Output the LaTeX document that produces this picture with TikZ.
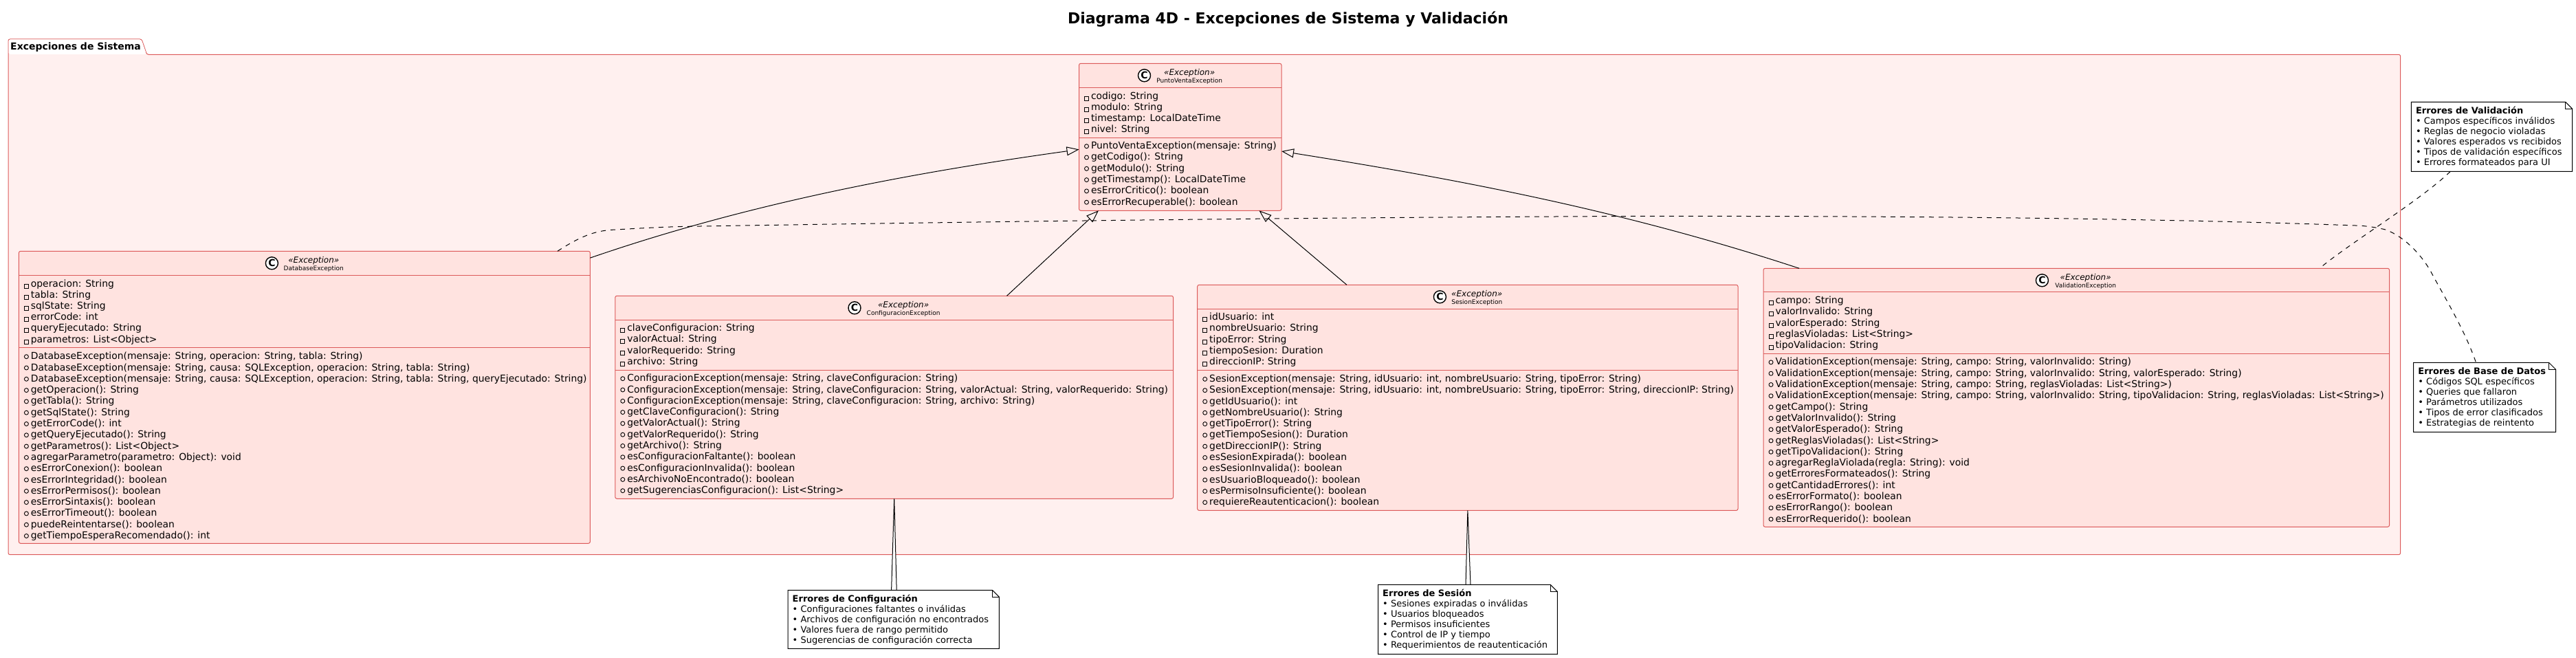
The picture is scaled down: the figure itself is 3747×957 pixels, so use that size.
\documentclass[tikz,border=0pt]{standalone}
\usepackage{fontspec}
\setmainfont{DejaVu Sans}
\usetikzlibrary{arrows.meta,calc}
\definecolor{pkgfill}{HTML}{FFF0EF}
\definecolor{clsfill}{HTML}{FFE3E0}
\definecolor{redline}{HTML}{DC5A5A}
\tikzset{
  x=1pt,y=-1pt,
  pkgshape/.style={draw=redline,fill=pkgfill,line width=1pt,rounded corners=2.5pt},
  clsbox/.style={draw=redline,fill=clsfill,line width=1pt,rounded corners=2.5pt,inner sep=0pt,outer sep=0pt},
  clsdiv/.style={draw=redline,line width=1pt},
  memtext/.style={anchor=base west,inner sep=0pt,font=\fontsize{13.9}{15}\selectfont},
  notetext/.style={anchor=base west,inner sep=0pt,font=\fontsize{13}{15}\selectfont},
  notehead/.style={anchor=base west,inner sep=0pt,font=\fontsize{13}{15}\selectfont\bfseries},
  notebox/.style={inner sep=0pt,outer sep=0pt},
  noteshape/.style={draw=black,fill=white,line width=1pt},
  inherit/.style={draw=black,line width=1pt,-{Triangle[open,length=18pt,width=13pt,line width=1pt]}},
  notelink/.style={draw=black,line width=1pt,dash pattern=on 7pt off 7pt},
  wedgelink/.style={draw=black,fill=white,line width=1pt},
}
\newcommand{\classbox}[9]{%
  % name, left, top, right, bottom, hdiv, adiv, C centre x, class name
  \pgfmathsetmacro{\cxx}{(#2+#4)/2}\pgfmathsetmacro{\cyy}{(#3+#5)/2}
  \pgfmathsetmacro{\cww}{#4-#2}\pgfmathsetmacro{\chh}{#5-#3}
  \node[clsbox,minimum width=\cww pt,minimum height=\chh pt] (#1) at (\cxx,\cyy) {};
  \draw[clsdiv] (#2,#6) -- (#4,#6);
  \draw[clsdiv] (#2,#7) -- (#4,#7);
  \pgfmathsetmacro{\cic}{#3+17.5}
  \pgfmathsetmacro{\ctx}{\cxx+13.4}
  \pgfmathsetmacro{\csa}{#3+17}
  \pgfmathsetmacro{\csb}{#3+28}
  \node[circle,draw=black,fill=white,line width=1.4pt,minimum size=18pt,inner sep=0pt,font=\fontsize{14}{14}\selectfont\bfseries] (#1-c) at (#8,\cic) {C};
  \node[anchor=base,inner sep=0pt,font=\fontsize{12}{14}\selectfont\itshape] (#1-s) at (\ctx,\csa) {«Exception»};
  \node[anchor=base,inner sep=0pt,font=\fontsize{9}{11}\selectfont] (#1-n) at (\ctx,\csb) {#9};
}
\newcommand{\attrlist}[4]{%
  % name, left, first baseline, list
  \foreach \t [count=\i from 0] in {#4} {
    \pgfmathsetmacro{\ly}{#3+16.2*\i}
    \pgfmathsetmacro{\lx}{#2+17.3}
    \pgfmathsetmacro{\ix}{#2+8}
    \pgfmathsetmacro{\iy}{\ly-4}
    \draw[black,line width=0.9pt] (\ix,\iy) rectangle +(6,6);
    \node[memtext] (#1-a\i) at (\lx,\ly) {\t};
  }
}
\newcommand{\methlist}[4]{%
  \foreach \t [count=\i from 0] in {#4} {
    \pgfmathsetmacro{\ly}{#3+16.3*\i}
    \pgfmathsetmacro{\lx}{#2+17.3}
    \pgfmathsetmacro{\ix}{#2+11}
    \pgfmathsetmacro{\iy}{\ly-4}
    \draw[black,line width=0.9pt] (\ix,\iy) circle (3pt);
    \node[memtext] (#1-m\i) at (\lx,\ly) {\t};
  }
}
\newcommand{\notenode}[7]{%
  % name, left, top, right, bottom, heading, lines
  \pgfmathsetmacro{\cxx}{(#2+#4)/2}\pgfmathsetmacro{\cyy}{(#3+#5)/2}
  \pgfmathsetmacro{\cww}{#4-#2}\pgfmathsetmacro{\chh}{#5-#3}
  \node[notebox,minimum width=\cww pt,minimum height=\chh pt] (#1) at (\cxx,\cyy) {};
  \draw[noteshape] (#1.north west) -- ($(#1.north east)+(-10,0)$) -- ($(#1.north east)+(0,10)$) -- (#1.south east) -- (#1.south west) -- cycle;
  \draw[noteshape,fill=none] ($(#1.north east)+(-10,0)$) -- ($(#1.north east)+(-10,10)$) -- ($(#1.north east)+(0,10)$);
  \pgfmathsetmacro{\lx}{#2+6.5}
  \pgfmathsetmacro{\ly}{#3+17}
  \node[notehead] (#1-h) at (\lx,\ly) {#6};
  \foreach \t [count=\i from 0] in {#7} {
    \pgfmathsetmacro{\ly}{#3+32.4+15*\i}
    \node[notetext] (#1-l\i) at (\lx,\ly) {• \t};
  }
}
\begin{document}
\begin{tikzpicture}
\useasboundingbox (0,0) rectangle (3747,957);
\node[anchor=base,inner sep=0pt,font=\fontsize{22}{24}\selectfont\bfseries] (title) at (1873.5,35) {Diagrama 4D - Excepciones de Sistema y Validación};
% package
\draw[pkgshape] (12,79.3) -- (12,57) -- (206,57) -- (213.6,79.3) -- (3491.6,79.3) -- (3491.6,806.7) -- (12,806.7) -- cycle;
\fill[white,rounded corners=2.5pt] (12.5,57.5) -- (205.6,57.5) -- (213,78.8) -- (12.5,78.8) -- cycle;
\node[anchor=base west,inner sep=0pt,font=\fontsize{14}{16}\selectfont\bfseries] (pkgname) at (15,72.7) {Excepciones de Sistema};
% classes
\classbox{pv}{1569.5}{92.3}{1864}{306.3}{127.3}{200.7}{1664.5}{PuntoVentaException}
\attrlist{pv}{1569.5}{144.1}{codigo: String,modulo: String,timestamp: LocalDateTime,nivel: String}
\methlist{pv}{1569.5}{216.7}{{PuntoVentaException(mensaje: String)},getCodigo(): String,getModulo(): String,getTimestamp(): LocalDateTime,esErrorCritico(): boolean,esErrorRecuperable(): boolean}
\classbox{db}{27.4}{365.3}{858.4}{790.3}{400.3}{505}{395.4}{DatabaseException}
\attrlist{db}{27.4}{417.1}{operacion: String,tabla: String,sqlState: String,errorCode: int,queryEjecutado: String,parametros: List<Object>}
\methlist{db}{27.4}{522.7}{{DatabaseException(mensaje: String, operacion: String, tabla: String)},{DatabaseException(mensaje: String, causa: SQLException, operacion: String, tabla: String)},{DatabaseException(mensaje: String, causa: SQLException, operacion: String, tabla: String, queryEjecutado: String)},getOperacion(): String,getTabla(): String,getSqlState(): String,getErrorCode(): int,getQueryEjecutado(): String,getParametros(): List<Object>,agregarParametro(parametro: Object): void,esErrorConexion(): boolean,esErrorIntegridad(): boolean,esErrorPermisos(): boolean,esErrorSintaxis(): boolean,esErrorTimeout(): boolean,puedeReintentarse(): boolean,getTiempoEsperaRecomendado(): int}
\classbox{cfg}{894.8}{430.3}{1706.6}{725.3}{465.3}{538.3}{1243}{ConfiguracionException}
\attrlist{cfg}{894.8}{481.7}{claveConfiguracion: String,valorActual: String,valorRequerido: String,archivo: String}
\methlist{cfg}{894.8}{554.7}{{ConfiguracionException(mensaje: String, claveConfiguracion: String)},{ConfiguracionException(mensaje: String, claveConfiguracion: String, valorActual: String, valorRequerido: String)},{ConfiguracionException(mensaje: String, claveConfiguracion: String, archivo: String)},getClaveConfiguracion(): String,getValorActual(): String,getValorRequerido(): String,getArchivo(): String,esConfiguracionFaltante(): boolean,esConfiguracionInvalida(): boolean,esArchivoNoEncontrado(): boolean,getSugerenciasConfiguracion(): List<String>}
\classbox{ses}{1741.7}{414.3}{2528}{742.4}{449.4}{538.4}{2094.4}{SesionException}
\attrlist{ses}{1741.7}{465.7}{idUsuario: int,nombreUsuario: String,tipoError: String,tiempoSesion: Duration,direccionIP: String}
\methlist{ses}{1741.7}{555.4}{{SesionException(mensaje: String, idUsuario: int, nombreUsuario: String, tipoError: String)},{SesionException(mensaje: String, idUsuario: int, nombreUsuario: String, tipoError: String, direccionIP: String)},getIdUsuario(): int,getNombreUsuario(): String,getTipoError(): String,getTiempoSesion(): Duration,getDireccionIP(): String,esSesionExpirada(): boolean,esSesionInvalida(): boolean,esUsuarioBloqueado(): boolean,esPermisoInsuficiente(): boolean,requiereReautenticacion(): boolean}
\classbox{val}{2565}{390.3}{3475.5}{766.3}{424.3}{514.7}{2970.4}{ValidationException}
\attrlist{val}{2565}{441.7}{campo: String,valorInvalido: String,valorEsperado: String,reglasVioladas: List<String>,tipoValidacion: String}
\methlist{val}{2565}{530.9}{{ValidationException(mensaje: String, campo: String, valorInvalido: String)},{ValidationException(mensaje: String, campo: String, valorInvalido: String, valorEsperado: String)},{ValidationException(mensaje: String, campo: String, reglasVioladas: List<String>)},{ValidationException(mensaje: String, campo: String, valorInvalido: String, tipoValidacion: String, reglasVioladas: List<String>)},getCampo(): String,getValorInvalido(): String,getValorEsperado(): String,getReglasVioladas(): List<String>,getTipoValidacion(): String,agregarReglaViolada(regla: String): void,getErroresFormateados(): String,getCantidadErrores(): int,esErrorFormato(): boolean,esErrorRango(): boolean,esErrorRequerido(): boolean}
% note placeholders for the wedges, then notes
\coordinate (ncfgA) at (1296.6,858.3);
\coordinate (ncfgB) at (1304.2,858.3);
\coordinate (nsesA) at (2132,850.4);
\coordinate (nsesB) at (2139,850.4);
\draw[wedgelink] (ncfgA) -- (cfg.south) -- (ncfgB);
\draw[wedgelink] (nsesA) -- (ses.south) -- (nsesB);
\notenode{ncfg}{1146}{858.3}{1453.4}{943.3}{Errores de Configuración}{Configuraciones faltantes o inválidas,Archivos de configuración no encontrados,Valores fuera de rango permitido,Sugerencias de configuración correcta}
\notenode{nses}{2004.5}{850.4}{2265.3}{951.3}{Errores de Sesión}{Sesiones expiradas o inválidas,Usuarios bloqueados,Permisos insuficientes,Control de IP y tiempo,Requerimientos de reautenticación}
\notenode{nval}{3507.3}{148.3}{3741.7}{249.3}{Errores de Validación}{Campos específicos inválidos,Reglas de negocio violadas,Valores esperados vs recibidos,Tipos de validación específicos,Errores formateados para UI}
\notenode{ndb}{3510.7}{527.3}{3717.5}{628.3}{Errores de Base de Datos}{Códigos SQL específicos,Queries que fallaron,Parámetros utilizados,Tipos de error clasificados,Estrategias de reintento}
% inheritance
\draw[inherit] (db.26.38) .. controls (1088,296) and (1321,252) .. (pv.187.35);
\draw[inherit] (cfg.42.37) -- (pv.222.5);
\draw[inherit] (ses.137.68) -- (pv.317.37);
\draw[inherit] (val.155.06) .. controls (2366,307.8) and (2133,262.7) .. (pv.352);
% note links
\draw[notelink] (db.30.54) .. controls (850,340) and (870,335) .. (896,334) .. controls (930,332) and (965,330) .. (1000,329.3) .. controls (1400,323) and (1800,317) .. (2365,314.5) .. controls (2700,314) and (3100,316) .. (3434.5,328.3) .. controls (3448,329.5) and (3460,331.5) .. (3471,334.3) .. controls (3495,344) and (3518,365) .. (3534.7,393) .. controls (3560,440) and (3585,480) .. (ndb.104.1);
\draw[notelink] (nval.220.2) .. controls (3520,292) and (3420,352) .. (val.28.74);
\end{tikzpicture}
\end{document}
